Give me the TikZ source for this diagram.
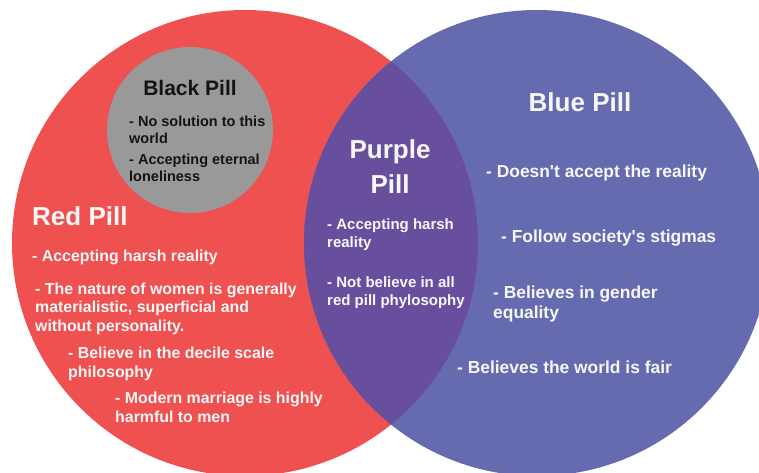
\documentclass[tikz,border=0pt]{standalone}
\usepackage{fontspec}
\setmainfont{Liberation Sans}
\definecolor{redpill}{HTML}{EF5050}
\definecolor{bluepill}{HTML}{666BB0}
\definecolor{purplepill}{HTML}{684F9E}
\definecolor{blackpill}{HTML}{999999}
\definecolor{pilltext}{HTML}{F7F7F7}
\definecolor{darktext}{HTML}{141414}
\begin{document}
\begin{tikzpicture}[
        x=1pt, y=-1pt,
        every node/.style={inner sep=0pt, align=left},
        title/.style={anchor=base, text=pilltext, align=center, font=\bfseries\fontsize{26}{34}\selectfont},
        item/.style={anchor=base west, text=pilltext, font=\bfseries\fontsize{15.9}{18.5}\selectfont},
        blueitem/.style={item, font=\bfseries\fontsize{17.4}{20}\selectfont},
        miditem/.style={item, font=\bfseries\fontsize{15}{18}\selectfont},
        darkitem/.style={item, text=darktext, font=\bfseries\fontsize{14.5}{17}\selectfont}
    ]
    \useasboundingbox (0,0) rectangle (759,473);
    % circles
    \fill[redpill] (245,243) circle (233pt);
    \fill[bluepill] (537,243) circle (233pt);
    \begin{scope}
        \clip (245,243) circle (233pt);
        \fill[purplepill] (537,243) circle (233pt);
    \end{scope}
    \fill[blackpill] (190,130) circle (83pt);
    % black pill (multi-line nodes sit on their last baseline)
    \node[title, text=darktext, font=\bfseries\fontsize{21}{25}\selectfont] (blacktitle) at (190,96) {Black Pill};
    \node[darkitem] (black1) at (129,143) {- No solution to this\\world};
    \node[darkitem] (black2) at (129,181) {- Accepting eternal\\loneliness};
    % red pill
    \node[title, anchor=base west] (redtitle) at (32,225) {Red Pill};
    \node[item] (red1) at (32,261) {- Accepting harsh reality};
    \node[item] (red2) at (35,331) {- The nature of women is generally\\materialistic, superficial and\\without personality.};
    \node[item] (red3) at (68,377) {- Believe in the decile scale\\philosophy};
    \node[item] (red4) at (115,422) {- Modern marriage is highly\\harmful to men};
    % purple pill
    \node[title] (purpletitle) at (390,193) {Purple\\Pill};
    \node[miditem] (purple1) at (327,247) {- Accepting harsh\\reality};
    \node[miditem] (purple2) at (327,305) {- Not believe in all\\red pill phylosophy};
    % blue pill
    \node[title] (bluetitle) at (580,112) {Blue Pill};
    \node[blueitem] (blue1) at (486,177) {- Doesn\textquotesingle t accept the reality};
    \node[blueitem] (blue2) at (501,242) {- Follow society\textquotesingle s stigmas};
    \node[blueitem] (blue3) at (493,318) {- Believes in gender\\equality};
    \node[blueitem] (blue4) at (457,373) {- Believes the world is fair};
\end{tikzpicture}
\end{document}
